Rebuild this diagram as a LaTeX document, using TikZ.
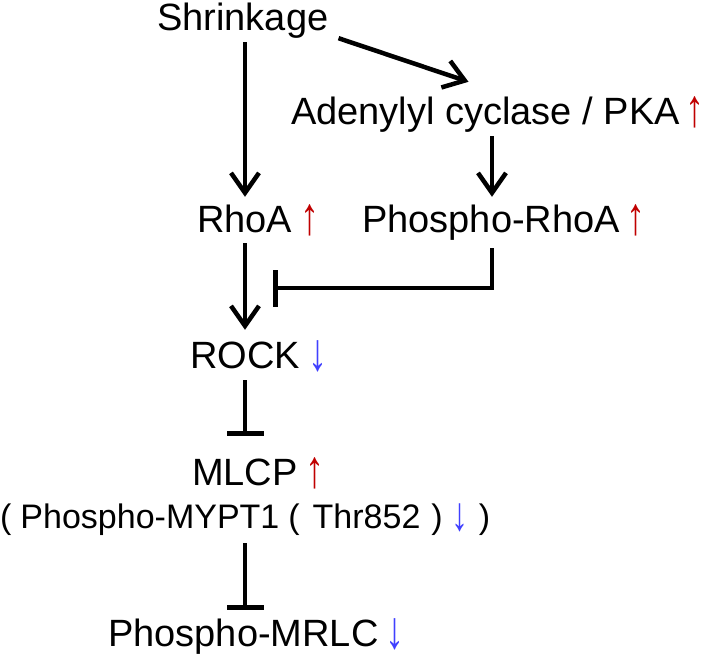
\documentclass[tikz,border=0pt]{standalone}
\usepackage{fontspec}
\setmainfont{Liberation Sans}
\usetikzlibrary{arrows.meta}
\definecolor{upred}{RGB}{192,0,0}
\definecolor{dnblue}{RGB}{64,64,255}
\newcommand{\arrglyph}[1]{\raisebox{-2pt}{\scalebox{1}[1.4]{#1}}}
\newcommand{\up}[1][36pt]{\makebox[#1][c]{\textcolor{upred}{\arrglyph{↑}}}}
\newcommand{\dn}[1][36pt]{\makebox[#1][c]{\textcolor{dnblue}{\arrglyph{↓}}}}
\begin{document}
\begin{tikzpicture}[x=1pt,y=-1pt,
  lbl/.style={anchor=base west,inner sep=0pt,text height=28pt,text depth=8pt,font=\fontsize{38}{44}\selectfont},
  lblsmall/.style={lbl,font=\fontsize{34}{40}\selectfont},
  act/.style={line width=4.5pt,-{Straight Barb[length=20pt,width=28pt,line width=4.5pt]}},
  inh/.style={line width=4.5pt,-{Bar[width=37pt,line width=4.5pt]}}]
\useasboundingbox (0,0) rectangle (706,659);
\node[lbl] (shr) at (157,30) {Shrinkage};
\node[lbl] (ac) at (291,124) {Adenylyl cyclase / PKA\up[30pt]};
\node[lbl] (rhoa) at (197,232) {RhoA\up};
\node[lbl] (prhoa) at (362,232) {Phospho-RhoA\up[32pt]};
\node[lbl] (rock) at (190,368) {ROCK\dn};
\node[lbl] (mlcp) at (192,485) {MLCP\up[34pt]};
\node[lblsmall] (mypt) at (0,528) {(\hspace{9pt}Phospho-MYPT1\hspace{9pt}(\hspace{13pt}Thr852\hspace{11pt})\hspace{2pt}\dn[30pt]\hspace{4pt})};
\node[lbl] (mrlc) at (108,646) {Phospho-MRLC\dn[32pt]};
\coordinate (lx) at (245,0);
\coordinate (rx) at (492,0);
\coordinate (ibx) at (273,288);
\draw[act] ([yshift=-4pt]shr.south -| lx) -- ([yshift=7pt]rhoa.north -| lx);
\draw[act] ([xshift=10pt]shr.south east) -- ([shift={(-32pt,14pt)}]ac.north);
\draw[act] ([yshift=-4pt]ac.south -| rx) -- ([yshift=7pt]prhoa.north -| rx);
\draw[act] ([yshift=-3pt]rhoa.south -| lx) -- ([yshift=10pt]rock.north -| lx);
\draw[inh] ([yshift=-8pt]prhoa.south -| rx) |- (ibx);
\draw[inh] ([yshift=-4pt]rock.south -| lx) -- ([yshift=21pt]mlcp.north -| lx);
\draw[inh] ([yshift=-7pt]mypt.south -| lx) -- ([yshift=8pt]mrlc.north -| lx);
\end{tikzpicture}
\end{document}
